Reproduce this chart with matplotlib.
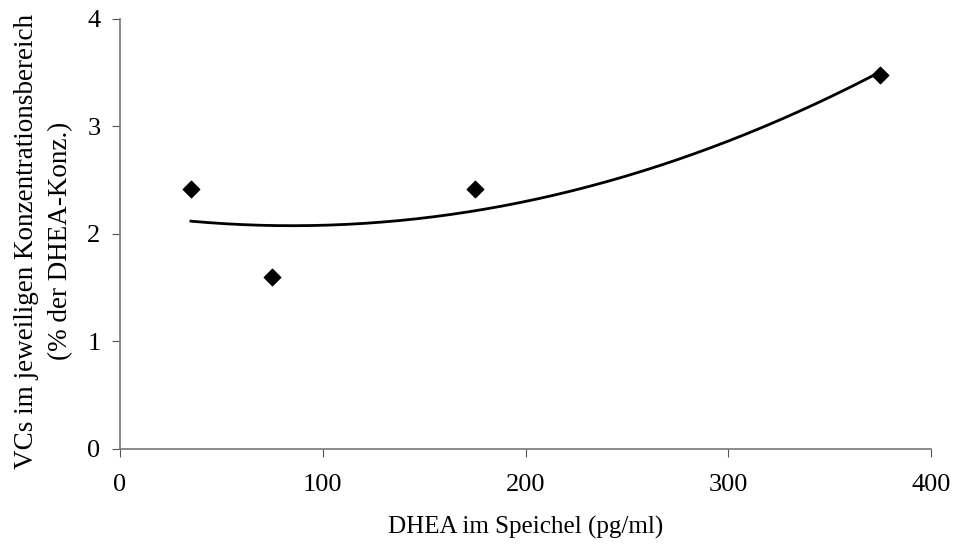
import numpy as np
import matplotlib.pyplot as plt

plt.rcParams['font.family'] = ['Liberation Serif', 'DejaVu Serif']

# DHEA concentration (pg/ml) and VC (%)
dhea = [35, 75, 175, 375]
vc = [2.42, 1.60, 2.42, 3.48]

x_ticks = [0, 100, 200, 300, 400]
y_ticks = [0, 1, 2, 3, 4]

fig = plt.figure(figsize=(9.56, 5.55), dpi=100)
ax = fig.add_axes([0.1255, 0.191, 0.8485, 0.775])

# polynomial trendline (order 2), like the spreadsheet one
coef = np.polyfit(dhea, vc, 2)
xs = np.linspace(min(dhea), max(dhea), 200)
ax.plot(xs, np.polyval(coef, xs), color='black', lw=2)

ax.scatter(dhea, vc, marker='D', s=70, color='black', zorder=3)

ax.set_xlim(0, 400)
ax.set_ylim(0, 4)
ax.set_xticks(x_ticks)
ax.set_yticks(y_ticks)
ax.tick_params(labelsize=19, direction='out', length=6, color='#555555')
ax.tick_params(axis='x', pad=12)
ax.tick_params(axis='y', pad=8)
for s in ['top', 'right']:
    ax.spines[s].set_visible(False)
for s in ['left', 'bottom']:
    ax.spines[s].set_color('#777777')
    ax.spines[s].set_linewidth(1.2)

ax.set_xlabel('DHEA im Speichel (pg/ml)', fontsize=18, labelpad=14)
ax.set_ylabel('VCs im jeweiligen Konzentrationsbereich\n(% der DHEA-Konz.)', fontsize=19.5,
              linespacing=1.45, va='center')
ax.yaxis.set_label_coords(-0.094, 0.483)

fig.savefig('out.png')
